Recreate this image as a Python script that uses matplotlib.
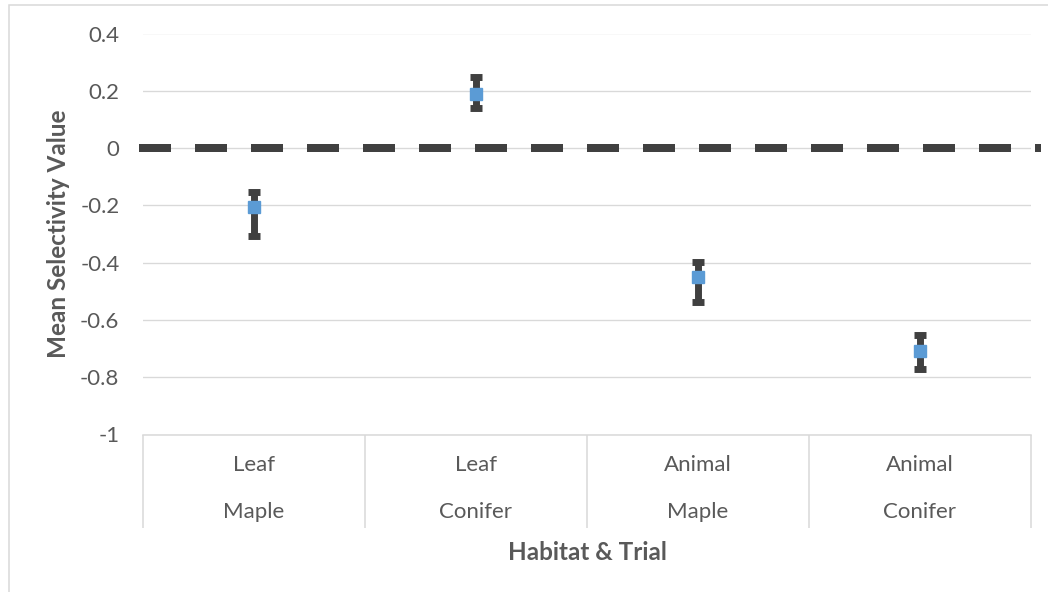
import matplotlib
matplotlib.use("Agg")
import matplotlib.pyplot as plt
from matplotlib.patches import Rectangle
import numpy as np

# ---- data ----
habitats = ["Leaf", "Leaf", "Animal", "Animal"]
trials = ["Maple", "Conifer", "Maple", "Conifer"]
mean_selectivity = [-0.205, 0.19, -0.449, -0.71]
err_plus = [0.053, 0.057, 0.052, 0.056]
err_minus = [0.102, 0.05, 0.089, 0.062]
y_ticks = [0.4, 0.2, 0, -0.2, -0.4, -0.6, -0.8, -1]
y_tick_labels = ["0.4", "0.2", "0", "-0.2", "-0.4", "-0.6", "-0.8", "-1"]
reference_value = 0
x_title = "Habitat & Trial"
y_title = "Mean Selectivity Value"

W, H = 1048, 592
DPI = 100
plt.rcParams['font.family'] = ['Lato', 'DejaVu Sans']
TXT = "#595959"
GRID = "#d9d9d9"
DARK = "#404040"
BLUE = "#5B9BD5"

fig = plt.figure(figsize=(W / DPI, H / DPI), dpi=DPI)
fig.patch.set_facecolor("white")
# chart area border (left/top visible)
fig.add_artist(Rectangle((9 / W, -0.2), 1.5, 1.2 - 5 / H,
                         transform=fig.transFigure, fill=False,
                         edgecolor=GRID, linewidth=1.1))

left, right = 143 / W, 1031 / W
top, bottom = 1 - 33.5 / H, 1 - 434.5 / H
ax = fig.add_axes([left, bottom, right - left, top - bottom])

x = np.arange(len(mean_selectivity))
ax.set_xlim(-0.5, len(x) - 0.5)
ax.set_ylim(min(y_ticks), max(y_ticks))

# gridlines
ax.set_yticks(y_ticks)
ax.set_yticklabels(y_tick_labels)
ax.yaxis.grid(True, color=GRID, linewidth=0.95)
ax.set_axisbelow(True)
ax.tick_params(axis='y', length=0, pad=17, labelsize=16, labelcolor=TXT)

for s in ["left", "right", "top"]:
    ax.spines[s].set_visible(False)
ax.spines["bottom"].set_color(GRID)
ax.spines["bottom"].set_linewidth(1.1)

# category separators as long outward ticks
bounds = np.arange(len(x) + 1) - 0.5
ax.set_xticks(bounds)
ax.set_xticklabels([""] * len(bounds))
ax.tick_params(axis='x', direction='out', length=93 * 0.72, width=1.1, color=GRID)

# category labels (two levels)
tr = ax.get_xaxis_transform()
ax_h = (top - bottom) * H
for xi, hab, tri in zip(x, habitats, trials):
    ax.text(xi, -(465 - 434.5) / ax_h, hab, transform=tr, ha='center', va='center',
            fontsize=16, color=TXT)
    ax.text(xi, -(512 - 434.5) / ax_h, tri, transform=tr, ha='center', va='center',
            fontsize=16, color=TXT)

ax.text(0.5, -(552 - 434.5) / ax_h, x_title, transform=ax.transAxes, ha='center',
        va='center', fontsize=17.5, fontweight='bold', color=TXT)
fig.text(58 / W, (top + bottom) / 2, y_title, rotation=90, ha='center', va='center',
         fontsize=17.5, fontweight='bold', color=TXT)

# dashed reference line
ax_w = (right - left) * W
ax.axhline(reference_value, xmin=-4 / ax_w, xmax=(1041 - 143) / ax_w, color=DARK,
           linewidth=5.76, dashes=(4, 3), clip_on=False, zorder=3,
           solid_capstyle='butt', dash_capstyle='butt')

# points with error bars
ax.errorbar(x, mean_selectivity, yerr=[err_minus, err_plus], fmt='s', color=BLUE,
            markersize=8.4, markeredgecolor=BLUE, ecolor=DARK, elinewidth=5.0,
            capsize=4.3, capthick=5.0, zorder=4)

fig.savefig("out.png", dpi=DPI)
